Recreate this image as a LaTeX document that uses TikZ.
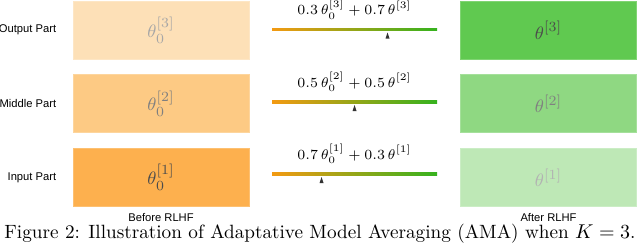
\documentclass[tikz,border=0pt]{standalone}
\usepackage{fontspec}
\newfontfamily\partfont{Liberation Sans}
\usepackage{tikz}
\usetikzlibrary{positioning, calc}
\definecolor{oranA}{HTML}{FDB04E}
\definecolor{oranB}{HTML}{FDCA84}
\definecolor{oranC}{HTML}{FDE0B7}
\definecolor{grenA}{HTML}{60C950}
\definecolor{grenB}{HTML}{8FD882}
\definecolor{grenC}{HTML}{BEE8B6}
\definecolor{barorange}{HTML}{F39A12}
\definecolor{bargreen}{HTML}{35B21E}

\begin{document}
\begin{tikzpicture}[x=0.5pt, y=0.5pt,
    partbox/.style={draw=#1!80!white, fill=#1, minimum width=88pt, minimum height=29pt, inner sep=0pt, font=\fontsize{9.5}{10}\selectfont},
    partlabel/.style={inner sep=0pt, font=\partfont\fontsize{5.6}{6}\selectfont},
    formula/.style={inner sep=0pt, font=\fontsize{6.6}{7}\selectfont},
    marker/.style={fill=black!80}]
    \useasboundingbox (0,0) rectangle (640,243);
    % before RLHF
    \node[partbox=oranC, text=black!35] (b3) at (161,213) {$\theta_0^{[3]}$};
    \node[partbox=oranB, text=black!50, below=7.5pt of b3] (b2) {$\theta_0^{[2]}$};
    \node[partbox=oranA, text=black!70, below=7.5pt of b2] (b1) {$\theta_0^{[1]}$};
    \node[partlabel, left=8pt of b3] (out) {Output Part};
    \node[partlabel, left=8pt of b2] (mid) {Middle Part};
    \node[partlabel, left=8pt of b1] (inp) {Input Part};
    \node[partlabel, below=3pt of b1] (before) {Before RLHF};
    % after RLHF
    \node[partbox=grenA, text=black!70] (a3) at (548.5,213) {$\theta^{[3]}$};
    \node[partbox=grenB, text=black!50, below=7.5pt of a3] (a2) {$\theta^{[2]}$};
    \node[partbox=grenC, text=black!30, below=7.5pt of a2] (a1) {$\theta^{[1]}$};
    \node[partlabel, below=3pt of a1] (after) {After RLHF};
    % averaging bars
    \coordinate (l3) at (272,213.5);
    \coordinate (r3) at (437,213.5);
    \coordinate (l2) at (272,141);
    \coordinate (r2) at (437,141);
    \coordinate (l1) at (272,69);
    \coordinate (r1) at (437,69);
    \shade[left color=barorange, right color=bargreen] ($(l3)+(0,-1.2)$) rectangle ($(r3)+(0,1.2)$);
    \shade[left color=barorange, right color=bargreen] ($(l2)+(0,-1.2)$) rectangle ($(r2)+(0,1.2)$);
    \shade[left color=barorange, right color=bargreen] ($(l1)+(0,-1.2)$) rectangle ($(r1)+(0,1.2)$);
    \node[formula] (f3) at ($(l3)!0.5!(r3)+(0,20)$) {$0.3\,\theta_0^{[3]} + 0.7\,\theta^{[3]}$};
    \node[formula] (f2) at ($(l2)!0.5!(r2)+(0,20)$) {$0.5\,\theta_0^{[2]} + 0.5\,\theta^{[2]}$};
    \node[formula] (f1) at ($(l1)!0.5!(r1)+(0,20)$) {$0.7\,\theta_0^{[1]} + 0.3\,\theta^{[1]}$};
    \fill[marker] ($(l3)!0.7!(r3)+(0,-3)$) -- ++(-2,-6) -- ++(4,0) -- cycle;
    \fill[marker] ($(l2)!0.5!(r2)+(0,-3)$) -- ++(-2,-6) -- ++(4,0) -- cycle;
    \fill[marker] ($(l1)!0.3!(r1)+(0,-3)$) -- ++(-2,-6) -- ++(4,0) -- cycle;
    % caption
    \node[inner sep=0pt, anchor=base, font=\fontsize{9.6}{11}\selectfont] (cap) at (320,5) {Figure 2: Illustration of Adaptative Model Averaging (AMA) when $K=3$.};
\end{tikzpicture}
\end{document}
